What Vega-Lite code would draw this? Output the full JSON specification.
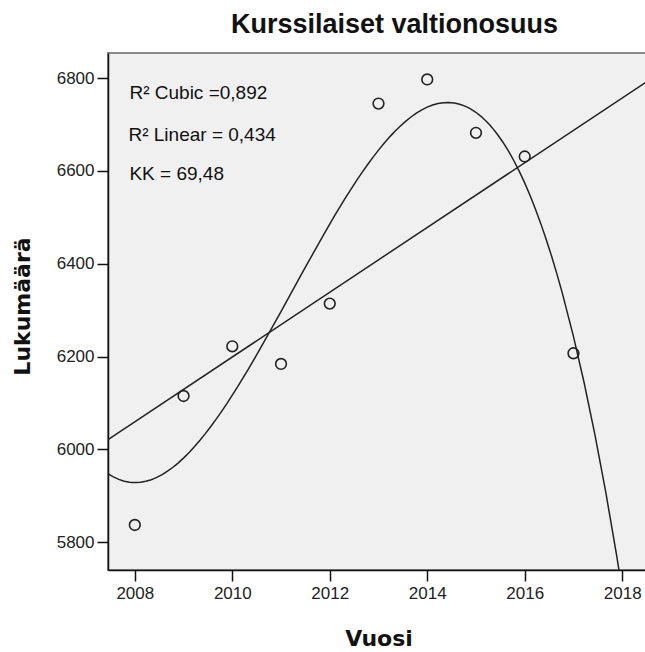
{
  "$schema": "https://vega.github.io/schema/vega-lite/v6.json",
  "autosize": "none",
  "width": 541,
  "height": 517,
  "padding": {"left": 108, "top": 53, "right": 0, "bottom": 82},
  "background": "white",
  "title": {
    "text": "Kurssilaiset valtionosuus",
    "font": "Liberation Sans",
    "fontSize": 27,
    "fontWeight": "bold",
    "color": "#111",
    "anchor": "middle",
    "baseline": "alphabetic",
    "offset": 21,
    "dx": 16,
    "dy": 28
  },
  "config": {
    "view": {"fill": "#F0F0F0", "stroke": "#8a8a8a", "strokeWidth": 2},
    "axis": {
      "grid": false,
      "domainColor": "#111",
      "domainWidth": 1.5,
      "tickColor": "#111",
      "tickWidth": 1.5,
      "tickSize": 11,
      "labelFont": "Liberation Sans",
      "labelFontSize": 17,
      "labelColor": "#222",
      "titleFont": "DejaVu Sans",
      "titleFontSize": 22,
      "titleFontWeight": "bold",
      "titleColor": "#111"
    }
  },
  "data": {
    "values": [
      {"Vuosi": 2008, "Lukumäärä": 5837},
      {"Vuosi": 2009, "Lukumäärä": 6115},
      {"Vuosi": 2010, "Lukumäärä": 6222},
      {"Vuosi": 2011, "Lukumäärä": 6184},
      {"Vuosi": 2012, "Lukumäärä": 6314},
      {"Vuosi": 2013, "Lukumäärä": 6745},
      {"Vuosi": 2014, "Lukumäärä": 6797},
      {"Vuosi": 2015, "Lukumäärä": 6682},
      {"Vuosi": 2016, "Lukumäärä": 6631},
      {"Vuosi": 2017, "Lukumäärä": 6207}
    ]
  },
  "layer": [
    {
      "transform": [
        {"regression": "Lukumäärä", "on": "Vuosi", "method": "linear", "extent": [2007.45, 2018.55]}
      ],
      "mark": {"type": "line", "color": "#222", "strokeWidth": 1.5, "clip": true},
      "encoding": {
        "x": {
          "field": "Vuosi",
          "type": "quantitative",
          "scale": {"domain": [2007.45, 2018.55], "nice": false, "zero": false},
          "axis": {
            "title": "Vuosi",
            "values": [2008, 2010, 2012, 2014, 2016, 2018],
            "format": "d",
            "labelPadding": 4,
            "titleBaseline": "alphabetic",
            "titleY": 75
          }
        },
        "y": {
          "field": "Lukumäärä",
          "type": "quantitative",
          "scale": {"domain": [5740, 6854], "nice": false, "zero": false},
          "axis": {
            "title": "Lukumäärä",
            "values": [5800, 6000, 6200, 6400, 6600, 6800],
            "format": "d",
            "labelPadding": 3,
            "titleBaseline": "alphabetic",
            "titleAlign": "center",
            "titleX": -79,
            "titleY": 253
          }
        }
      }
    },
    {
      "transform": [
        {"regression": "Lukumäärä", "on": "Vuosi", "method": "poly", "order": 3, "extent": [2007.45, 2018.55]}
      ],
      "mark": {"type": "line", "color": "#222", "strokeWidth": 1.5, "clip": true},
      "encoding": {
        "x": {"field": "Vuosi", "type": "quantitative"},
        "y": {"field": "Lukumäärä", "type": "quantitative"}
      }
    },
    {
      "mark": {"type": "point", "shape": "circle", "filled": false, "size": 115, "stroke": "#222", "strokeWidth": 1.6, "opacity": 1},
      "encoding": {
        "x": {"field": "Vuosi", "type": "quantitative"},
        "y": {"field": "Lukumäärä", "type": "quantitative"}
      }
    },
    {
      "data": {"values": [{"label": "R² Cubic =0,892"}]},
      "mark": {"type": "text", "align": "left", "baseline": "alphabetic", "font": "Liberation Sans", "fontSize": 19, "fill": "#111"},
      "encoding": {
        "x": {"datum": 2007.89, "type": "quantitative"},
        "y": {"datum": 6754, "type": "quantitative"},
        "text": {"field": "label", "type": "nominal"}
      }
    },
    {
      "data": {"values": [{"label": "R² Linear = 0,434"}]},
      "mark": {"type": "text", "align": "left", "baseline": "alphabetic", "font": "Liberation Sans", "fontSize": 19, "fill": "#111"},
      "encoding": {
        "x": {"datum": 2007.87, "type": "quantitative"},
        "y": {"datum": 6665, "type": "quantitative"},
        "text": {"field": "label", "type": "nominal"}
      }
    },
    {
      "data": {"values": [{"label": "KK = 69,48"}]},
      "mark": {"type": "text", "align": "left", "baseline": "alphabetic", "font": "Liberation Sans", "fontSize": 19, "fill": "#111"},
      "encoding": {
        "x": {"datum": 2007.89, "type": "quantitative"},
        "y": {"datum": 6580, "type": "quantitative"},
        "text": {"field": "label", "type": "nominal"}
      }
    }
  ]
}
